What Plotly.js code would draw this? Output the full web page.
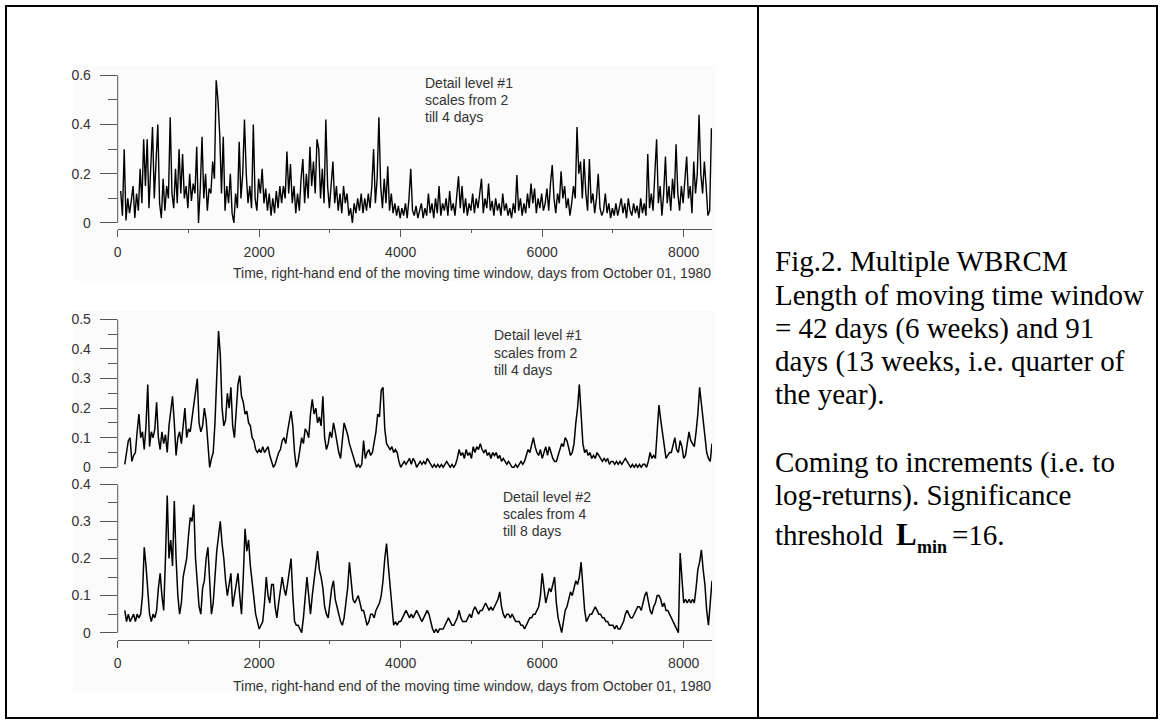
<!DOCTYPE html>
<html>
<head>
<meta charset="utf-8">
<script src="https://cdn.plot.ly/plotly-3.0.1.min.js"></script>
<style>
html,body{margin:0;padding:0;background:#fff;overflow:hidden;}
#chart{width:1165px;height:726px;}
</style>
</head>
<body>
<div id="chart"></div>
<script>
// ---------------- DATA ----------------
// Panel 1: detail level #1 (scales 2-4 days), 42-day window; values every 25 days from day 42
const topStartDay = 42;
const topStepDays = 25;
const topValues = [
0.13,0.03,0.30,0.01,0.10,0.04,0.09,0.15,0.02,0.12,0.05,0.22,0.08,0.34,0.15,0.34,0.06,0.20,0.39,0.10,
0.25,0.40,0.08,0.02,0.18,0.05,0.15,0.10,0.43,0.12,0.06,0.22,0.08,0.30,0.12,0.28,0.10,0.15,0.06,0.20,
0.09,0.16,0.12,0.31,0.00,0.14,0.35,0.10,0.20,0.05,0.14,0.12,0.25,0.18,0.58,0.50,0.36,0.12,0.35,0.05,
0.15,0.08,0.20,0.04,0.00,0.12,0.06,0.33,0.10,0.20,0.42,0.20,0.08,0.15,0.06,0.40,0.10,0.05,0.18,0.12,
0.22,0.08,0.14,0.05,0.12,0.03,0.10,0.04,0.13,0.06,0.15,0.08,0.15,0.10,0.29,0.12,0.24,0.08,0.15,0.04,
0.12,0.05,0.18,0.26,0.08,0.20,0.10,0.31,0.15,0.25,0.12,0.34,0.30,0.10,0.22,0.08,0.42,0.15,0.06,0.15,
0.25,0.08,0.15,0.05,0.12,0.04,0.15,0.08,0.12,0.03,0.06,0.00,0.08,0.04,0.10,0.05,0.12,0.04,0.10,0.05,
0.12,0.06,0.15,0.30,0.08,0.18,0.43,0.15,0.06,0.18,0.08,0.23,0.05,0.12,0.04,0.08,0.03,0.07,0.02,0.06,
0.03,0.08,0.02,0.10,0.22,0.05,0.03,0.07,0.02,0.05,0.08,0.02,0.06,0.03,0.12,0.04,0.08,0.02,0.10,0.04,
0.15,0.03,0.08,0.05,0.10,0.03,0.13,0.05,0.08,0.03,0.12,0.19,0.06,0.15,0.04,0.10,0.03,0.08,0.05,0.12,
0.04,0.10,0.06,0.12,0.18,0.04,0.10,0.06,0.16,0.05,0.09,0.03,0.10,0.05,0.08,0.03,0.12,0.05,0.08,0.03,
0.06,0.02,0.08,0.04,0.195,0.05,0.10,0.03,0.08,0.04,0.12,0.06,0.16,0.08,0.14,0.04,0.10,0.06,0.12,0.05,
0.08,0.14,0.05,0.16,0.235,0.10,0.04,0.12,0.08,0.21,0.10,0.15,0.06,0.10,0.03,0.08,0.15,0.10,0.39,0.20,
0.25,0.10,0.26,0.12,0.05,0.26,0.08,0.12,0.04,0.10,0.20,0.06,0.03,0.05,0.12,0.04,0.08,0.02,0.06,0.03,
0.08,0.03,0.06,0.10,0.04,0.08,0.02,0.10,0.05,0.03,0.08,0.04,0.07,0.02,0.10,0.04,0.08,0.03,0.28,0.06,
0.12,0.05,0.20,0.34,0.08,0.15,0.03,0.12,0.27,0.08,0.15,0.05,0.18,0.10,0.32,0.12,0.05,0.15,0.08,0.18,
0.27,0.10,0.15,0.04,0.25,0.12,0.20,0.44,0.20,0.12,0.25,0.15,0.03,0.05,0.385
];

// Panel 2: detail level #1, 91-day window; values every 25 days from day 100
const midStartDay = 100;
const midStepDays = 25;
const midValues = [
0.01,0.06,0.09,0.10,0.02,0.04,0.05,0.12,0.18,0.10,0.12,0.06,0.14,0.28,0.07,0.12,0.10,0.13,0.22,0.10,
0.06,0.12,0.08,0.11,0.05,0.14,0.20,0.24,0.15,0.04,0.10,0.12,0.08,0.15,0.20,0.10,0.13,0.12,0.17,0.22,
0.25,0.30,0.15,0.12,0.14,0.20,0.16,0.08,0.00,0.03,0.05,0.15,0.30,0.46,0.38,0.20,0.14,0.16,0.25,0.20,
0.27,0.14,0.10,0.20,0.28,0.31,0.24,0.22,0.18,0.19,0.15,0.14,0.10,0.09,0.06,0.05,0.06,0.05,0.07,0.05,
0.06,0.07,0.04,0.02,0.00,0.01,0.03,0.05,0.06,0.09,0.10,0.08,0.12,0.15,0.19,0.14,0.05,0.00,0.02,0.06,
0.10,0.08,0.13,0.12,0.10,0.18,0.23,0.18,0.20,0.15,0.17,0.14,0.24,0.10,0.06,0.08,0.12,0.10,0.15,0.12,
0.08,0.05,0.03,0.08,0.15,0.13,0.11,0.08,0.06,0.04,0.02,0.00,0.01,0.00,0.01,0.09,0.03,0.05,0.06,0.04,
0.05,0.08,0.12,0.18,0.17,0.26,0.27,0.13,0.08,0.07,0.06,0.07,0.05,0.06,0.05,0.02,0.00,0.01,0.02,0.01,
0.02,0.03,0.01,0.03,0.02,0.00,0.01,0.02,0.01,0.02,0.01,0.03,0.02,0.01,0.00,0.01,0.00,0.01,0.00,0.01,
0.00,0.01,0.02,0.01,0.00,0.01,0.00,0.01,0.03,0.06,0.04,0.05,0.03,0.06,0.04,0.05,0.03,0.07,0.05,0.07,
0.06,0.08,0.06,0.05,0.06,0.04,0.05,0.03,0.05,0.04,0.05,0.03,0.04,0.02,0.03,0.02,0.01,0.02,0.01,0.00,
0.00,0.01,0.00,0.01,0.02,0.01,0.02,0.04,0.06,0.05,0.08,0.10,0.07,0.05,0.04,0.06,0.03,0.05,0.07,0.04,
0.07,0.05,0.03,0.02,0.02,0.04,0.06,0.08,0.07,0.10,0.09,0.06,0.04,0.05,0.08,0.15,0.20,0.28,0.16,0.08,
0.05,0.06,0.04,0.05,0.03,0.04,0.03,0.05,0.04,0.03,0.02,0.03,0.02,0.03,0.01,0.02,0.02,0.01,0.02,0.01,
0.02,0.01,0.02,0.03,0.02,0.01,0.00,0.01,0.00,0.01,0.00,0.01,0.00,0.01,0.01,0.00,0.02,0.05,0.03,0.04,
0.03,0.12,0.21,0.16,0.12,0.07,0.03,0.04,0.05,0.05,0.08,0.10,0.06,0.05,0.09,0.07,0.03,0.04,0.08,0.12,
0.09,0.08,0.07,0.12,0.18,0.27,0.22,0.17,0.10,0.05,0.03,0.02,0.08
];

// Panel 3: detail level #2 (scales 4-8 days), 91-day window; values every 25 days from day 100
const lowStartDay = 100;
const lowStepDays = 25;
const lowValues = [
0.06,0.03,0.05,0.03,0.04,0.05,0.03,0.05,0.04,0.05,0.10,0.23,0.18,0.12,0.05,0.03,0.05,0.04,0.06,0.12,
0.16,0.10,0.06,0.20,0.37,0.20,0.25,0.18,0.355,0.20,0.10,0.05,0.08,0.15,0.18,0.20,0.26,0.31,0.30,0.345,
0.20,0.12,0.07,0.05,0.12,0.14,0.20,0.23,0.12,0.05,0.08,0.15,0.22,0.26,0.30,0.24,0.20,0.14,0.10,0.13,
0.16,0.07,0.10,0.12,0.16,0.10,0.05,0.15,0.28,0.22,0.25,0.18,0.14,0.10,0.05,0.03,0.01,0.02,0.03,0.08,
0.15,0.10,0.08,0.13,0.13,0.07,0.04,0.08,0.12,0.15,0.12,0.10,0.13,0.16,0.20,0.10,0.03,0.02,0.02,0.01,
0.00,0.04,0.10,0.15,0.10,0.05,0.10,0.15,0.18,0.22,0.17,0.15,0.12,0.07,0.05,0.04,0.08,0.12,0.14,0.09,
0.07,0.05,0.03,0.02,0.04,0.08,0.12,0.19,0.14,0.09,0.08,0.09,0.10,0.08,0.06,0.06,0.04,0.02,0.03,0.05,
0.05,0.04,0.06,0.07,0.08,0.10,0.14,0.20,0.24,0.18,0.12,0.06,0.02,0.03,0.02,0.03,0.03,0.04,0.05,0.06,
0.05,0.04,0.05,0.04,0.05,0.06,0.05,0.04,0.03,0.04,0.05,0.06,0.05,0.03,0.01,0.00,0.01,0.00,0.01,0.01,
0.01,0.02,0.03,0.04,0.03,0.02,0.02,0.03,0.04,0.06,0.04,0.03,0.03,0.03,0.04,0.05,0.04,0.06,0.07,0.06,
0.05,0.06,0.06,0.07,0.08,0.07,0.06,0.07,0.06,0.07,0.08,0.09,0.11,0.07,0.05,0.04,0.05,0.05,0.04,0.05,
0.04,0.03,0.03,0.03,0.02,0.02,0.01,0.02,0.03,0.04,0.04,0.05,0.05,0.06,0.07,0.10,0.16,0.12,0.08,0.10,
0.12,0.11,0.13,0.15,0.08,0.04,0.02,0.00,0.03,0.06,0.07,0.09,0.11,0.10,0.12,0.14,0.13,0.15,0.19,0.12,
0.06,0.03,0.04,0.05,0.05,0.06,0.07,0.06,0.05,0.05,0.04,0.04,0.03,0.03,0.02,0.02,0.02,0.01,0.02,0.01,
0.01,0.02,0.03,0.05,0.06,0.05,0.04,0.04,0.05,0.06,0.07,0.07,0.06,0.08,0.10,0.11,0.08,0.06,0.05,0.07,
0.08,0.10,0.10,0.09,0.07,0.08,0.06,0.06,0.05,0.04,0.03,0.02,0.01,0.00,0.215,0.14,0.08,0.09,0.08,0.09,
0.08,0.09,0.08,0.12,0.17,0.19,0.223,0.17,0.13,0.06,0.02,0.08,0.14
];

// Tick settings / texts
const xTickStep = 2000;
const xTitleText = "Time, right-hand end of the moving time window, days from October 01, 1980";
const panelLabels = [
  ["Detail level #1", "scales from 2", "till 4 days"],
  ["Detail level #1", "scales from 2", "till 4 days"],
  ["Detail level #2", "scales from 4", "till 8 days"]
];
const captionLines = [
  "Fig.2. Multiple WBRCM",
  "Length of moving time window",
  "= 42 days (6 weeks) and 91",
  "days (13 weeks, i.e. quarter of",
  "the year).",
  "Coming to increments (i.e. to",
  "log-returns). Significance"
];

// ---------------- LAYOUT ----------------
const W = 1165, H = 726;
const px = x => x / W;
const py = y => 1 - y / H;

const sansFont = 'Arial, "Liberation Sans", sans-serif';
const serifFont = '"Times New Roman", "Liberation Serif", serif';
const axisColor = '#555';
const textColor = '#333';
const fs = 14;

const xLeft = 117.7, xRight = 712;

function xAxisCfg(anchor, visible) {
  return {
    domain: [px(xLeft), px(xRight)], range: [0, 8400], anchor: anchor,
    visible: visible, showline: true, linecolor: axisColor, linewidth: 1,
    ticks: 'outside', ticklen: 7, tickcolor: axisColor, tickwidth: 1,
    tick0: 0, dtick: xTickStep, ticklabelstandoff: 3,
    minor: {dtick: xTickStep / 2, ticks: 'outside', ticklen: 3, tickcolor: axisColor, showgrid: false},
    showgrid: false, zeroline: false,
    tickfont: {family: sansFont, size: fs, color: textColor}
  };
}
function yAxisCfg(anchor, domainPx, range, dtick) {
  return {
    domain: [py(domainPx[1]), py(domainPx[0])], range: range, anchor: anchor,
    showline: false, ticks: 'outside', ticklen: 17, tickcolor: axisColor, tickwidth: 1,
    tick0: 0, dtick: dtick, ticklabelstandoff: 6,
    minor: {dtick: dtick / 2, ticks: 'outside', ticklen: 9, tickcolor: axisColor, showgrid: false},
    showgrid: false, zeroline: false,
    tickfont: {family: sansFont, size: fs, color: textColor}
  };
}

const traces = [
  {type: 'scatter', mode: 'lines', x0: topStartDay, dx: topStepDays, y: topValues, xaxis: 'x', yaxis: 'y', line: {color: '#000', width: 1.4}, hoverinfo: 'skip'},
  {type: 'scatter', mode: 'lines', x0: midStartDay, dx: midStepDays, y: midValues, xaxis: 'x2', yaxis: 'y2', line: {color: '#000', width: 1.5}, hoverinfo: 'skip'},
  {type: 'scatter', mode: 'lines', x0: lowStartDay, dx: lowStepDays, y: lowValues, xaxis: 'x3', yaxis: 'y3', line: {color: '#000', width: 1.5}, hoverinfo: 'skip'}
];

const shapes = [
  // faint background panels
  {type: 'rect', xref: 'paper', yref: 'paper', x0: px(73), x1: px(715), y0: py(281), y1: py(66), fillcolor: '#fbfbfb', line: {width: 0}, layer: 'below'},
  {type: 'rect', xref: 'paper', yref: 'paper', x0: px(73), x1: px(715), y0: py(693), y1: py(310), fillcolor: '#fbfbfb', line: {width: 0}, layer: 'below'},
  // y axis lines (only spanning the value range)
  {type: 'line', xref: 'x domain', yref: 'y', x0: 0, x1: 0, y0: 0, y1: 0.6, line: {color: axisColor, width: 1}},
  {type: 'line', xref: 'x2 domain', yref: 'y2', x0: 0, x1: 0, y0: 0, y1: 0.5, line: {color: axisColor, width: 1}},
  {type: 'line', xref: 'x3 domain', yref: 'y3', x0: 0, x1: 0, y0: 0, y1: 0.4, line: {color: axisColor, width: 1}},
  // table borders
  {type: 'rect', xref: 'paper', yref: 'paper', x0: px(6), x1: px(1157), y0: py(718), y1: py(6), line: {color: '#000', width: 2}, fillcolor: 'rgba(0,0,0,0)'},
  {type: 'line', xref: 'paper', yref: 'paper', x0: px(758), x1: px(758), y0: py(718), y1: py(6), line: {color: '#000', width: 2}}
];

const annotations = [];
function ann(text, x, y, opts) {
  annotations.push(Object.assign({
    text: text, xref: 'paper', yref: 'paper', x: px(x), y: py(y),
    xanchor: 'left', yanchor: 'middle', align: 'left', showarrow: false,
    font: {family: sansFont, size: fs, color: textColor}
  }, opts || {}));
}
// panel labels (one annotation per line)
const labelPos = [[423, [83, 100, 117]], [492, [335, 352.5, 370]], [501, [496.5, 513.5, 530.5]]];
panelLabels.forEach((lines, k) => lines.forEach((t, i) => ann(t, labelPos[k][0], labelPos[k][1][i])));
// x titles
ann(xTitleText, 713, 273, {xanchor: 'right'});
ann(xTitleText, 713, 686, {xanchor: 'right'});
// caption
const capFont = {family: serifFont, size: 29, color: '#000'};
const capY = [261, 294.5, 328, 361, 394.5, 462, 495.5];
captionLines.forEach((t, i) => ann(t, 773, capY[i], {font: capFont}));
ann('threshold', 773, 535.2, {font: capFont});
ann('<b>L</b>', 894, 534.5, {font: {family: serifFont, size: 31, color: '#000'}});
ann('<b>min</b>', 915, 546.9, {font: {family: serifFont, size: 18, color: '#000'}});
ann('=16.', 950, 535.2, {font: capFont});

const layout = {
  width: W, height: H, margin: {l: 0, r: 0, t: 0, b: 0, pad: 0},
  paper_bgcolor: '#fff', plot_bgcolor: 'rgba(0,0,0,0)', showlegend: false,
  font: {family: sansFont, size: fs, color: textColor},
  xaxis: xAxisCfg('y', true),
  yaxis: yAxisCfg('x', [75.3, 229], [-0.0244, 0.6], 0.2),
  xaxis2: xAxisCfg('y2', false),
  yaxis2: yAxisCfg('x2', [319.3, 468.5], [-0.004, 0.5], 0.1),
  xaxis3: xAxisCfg('y3', true),
  yaxis3: yAxisCfg('x3', [484.3, 640], [-0.0197, 0.4], 0.1),
  shapes: shapes,
  annotations: annotations
};

Plotly.newPlot('chart', traces, layout, {staticPlot: true, displayModeBar: false});
</script>
</body>
</html>
